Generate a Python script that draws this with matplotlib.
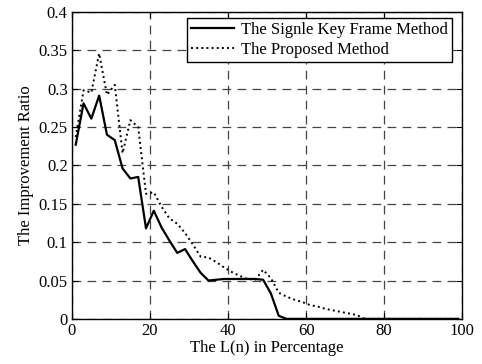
import matplotlib
matplotlib.use("Agg")
import matplotlib.pyplot as plt

plt.rcParams["font.family"] = ["Liberation Serif", "DejaVu Serif"]
plt.rcParams["font.size"] = 12

# L(n) in percentage, sampled every 2%
x = list(range(1, 100, 2))

single_key = [0.227, 0.281, 0.261, 0.291, 0.240, 0.233, 0.196, 0.183, 0.185, 0.118,
              0.141, 0.119, 0.102, 0.086, 0.091, 0.075, 0.060, 0.050, 0.051, 0.052,
              0.052, 0.052, 0.052, 0.052, 0.051, 0.033, 0.004, 0.0, 0.0, 0.0,
              0.0, 0.0, 0.0, 0.0, 0.0, 0.0, 0.0, 0.0, 0.0, 0.0,
              0.0, 0.0, 0.0, 0.0, 0.0, 0.0, 0.0, 0.0, 0.0, 0.0]

proposed = [0.237, 0.298, 0.295, 0.346, 0.292, 0.305, 0.216, 0.259, 0.250, 0.163,
            0.165, 0.146, 0.131, 0.124, 0.112, 0.097, 0.081, 0.080, 0.074, 0.067,
            0.061, 0.056, 0.052, 0.051, 0.064, 0.053, 0.034, 0.029, 0.025, 0.022,
            0.018, 0.016, 0.013, 0.011, 0.009, 0.007, 0.005, 0.0, 0.0, 0.0,
            0.0, 0.0, 0.0, 0.0, 0.0, 0.0, 0.0, 0.0, 0.0, 0.0]

fig = plt.figure(figsize=(4.82, 3.64), dpi=100)
ax = fig.add_axes([0.149, 0.124, 0.81, 0.843])

ax.plot(x, single_key, "k-", lw=1.6, label="The Signle Key Frame Method")
ax.plot(x, proposed, "k:", lw=1.4, label="The Proposed Method")

ax.set_xlim(0, 100)
ax.set_ylim(0, 0.4)
ax.set_xticks([0, 20, 40, 60, 80, 100])
ax.set_yticks([0, 0.05, 0.1, 0.15, 0.2, 0.25, 0.3, 0.35, 0.4])
ax.set_yticklabels(["0", "0.05", "0.1", "0.15", "0.2", "0.25", "0.3", "0.35", "0.4"])

ax.grid(True, color="#444444", linestyle=(0, (7, 5)), linewidth=0.9)
ax.tick_params(direction="in", top=True, right=True, length=4, labelsize=12, pad=3)
for s in ax.spines.values():
    s.set_linewidth(1.0)

ax.set_xlabel("The L(n) in Percentage", fontsize=12, labelpad=1)
ax.set_ylabel("The Improvement Ratio", fontsize=12, labelpad=3)

leg = ax.legend(loc="upper right", bbox_to_anchor=(0.974, 0.980), borderaxespad=0,
                fontsize=12, fancybox=False, framealpha=1, edgecolor="black",
                handlelength=2.6, handletextpad=0.4, borderpad=0.25,
                labelspacing=0.2)
leg.get_frame().set_linewidth(1.0)

fig.savefig("out.png", dpi=100)
